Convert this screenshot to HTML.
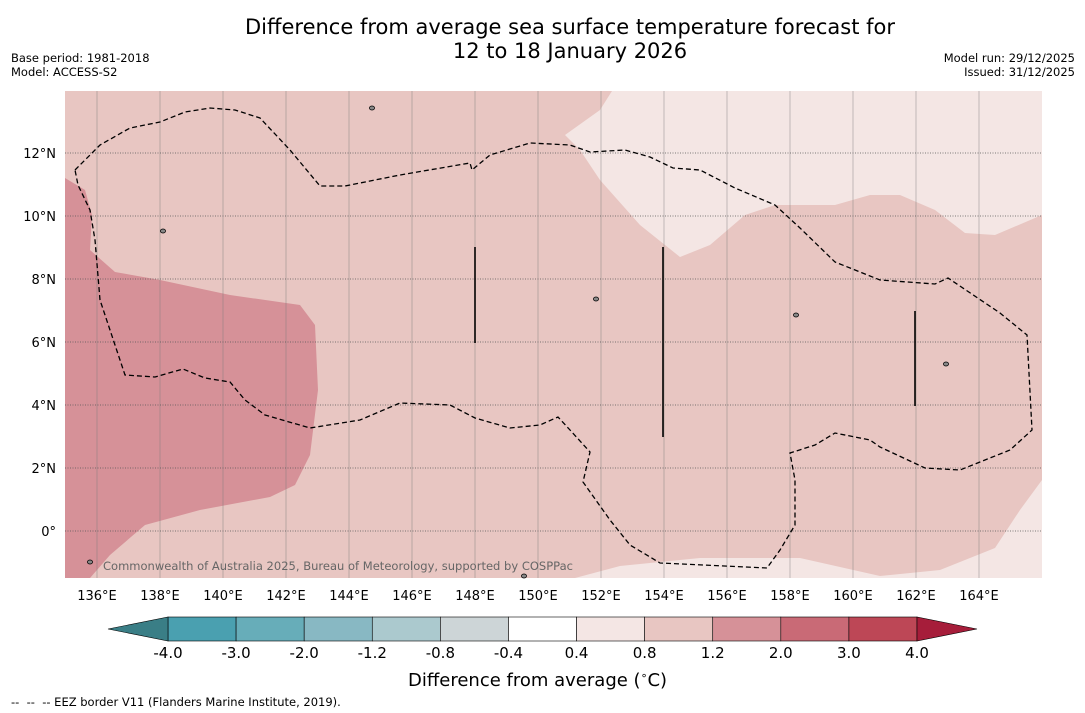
<!DOCTYPE html>
<html><head><meta charset="utf-8"><style>
body{margin:0;background:#fff;font-family:"DejaVu Sans","Liberation Sans",sans-serif;}
#wrap{position:relative;width:1085px;height:713px;overflow:hidden;background:#fff}
.t{position:absolute;color:#000}
</style></head><body>
<div id="wrap">
<div class="t" style="left:0;width:1140px;top:15px;text-align:center;font-size:21px;line-height:24px">Difference from average sea surface temperature forecast for<br>12 to 18 January 2026</div>
<div class="t" style="left:11px;top:51px;font-size:11.5px;line-height:14px">Base period: 1981-2018<br>Model: ACCESS-S2</div>
<div class="t" style="right:10px;top:51px;font-size:11.5px;line-height:14px;text-align:right">Model run: 29/12/2025<br>Issued: 31/12/2025</div>
<svg id="svg" width="1085" height="713" style="position:absolute;left:0;top:0"></svg>
<div class="t" style="left:408px;top:669px;font-size:18px">Difference from average (<sup style="font-size:11px">∘</sup>C)</div>
<div class="t" style="left:11px;top:695px;font-size:11.5px">-- &nbsp;-- &nbsp;-- EEZ border V11 (Flanders Marine Institute, 2019).</div>
</div>
<script>
const lonTicks=[136,138,140,142,144,146,148,150,152,154,156,158,160,162,164];
const latTicks=[0,2,4,6,8,10,12];
const cbLevels=["-4.0","-3.0","-2.0","-1.2","-0.8","-0.4","0.4","0.8","1.2","2.0","3.0","4.0"];
const cbColors=["#4aa0b0","#67adb9","#88b8c3","#abc9ce","#cdd5d7","#ffffff","#f4e6e4","#e8c6c2","#d69198","#c96a76","#bd4756"];
const cbExtend=["#3a7e86","#a61d3a"];
const NS="http://www.w3.org/2000/svg";
const svg=document.getElementById('svg');
function el(t,a,p){const e=document.createElementNS(NS,t);for(const k in a)e.setAttribute(k,a[k]);(p||svg).appendChild(e);return e;}
const X0=65,X1=1042,Y0=91,Y1=578;
const xs=lon=>97+(lon-136)*31.5;
const ys=lat=>531-lat*31.5;
let r=el('rect',{x:X0,y:Y0,width:X1-X0,height:Y1-Y0,fill:"#e8c6c2"});

const polys=[
 ["anomaly-1p2-2p0-region","#d69198","65,178 85,190 92,215 90,250 115,272 160,280 230,295 300,305 315,325 318,390 310,455 295,485 270,497 200,510 145,525 110,555 90,578 65,578"],
 ["anomaly-0p4-0p8-north","#f4e6e4","612,91 600,110 565,135 580,150 600,180 640,225 680,257 710,245 745,215 775,205 835,205 870,195 900,195 935,210 965,233 995,235 1042,215 1042,91"],
 ["anomaly-0p4-0p8-south","#f4e6e4","1042,480 1020,510 995,548 940,570 880,576 800,558 700,558 620,566 575,578 1042,578"]
];
polys.forEach(p=>{const e=el('polygon',{points:p[2],fill:p[1]});});
lonTicks.forEach(l=>{const x=xs(l);const g=el('line',{x1:x,x2:x,y1:Y0,y2:Y1,stroke:"#777","stroke-width":0.6,"stroke-opacity":0.7});

const t=el('text',{x:x,y:600,"text-anchor":"middle","font-size":13,"font-family":"DejaVu Sans,sans-serif"});t.textContent=l+"°E";
});
latTicks.forEach(l=>{const y=ys(l);const g=el('line',{x1:X0,x2:X1,y1:y,y2:y,stroke:"#555","stroke-width":0.7,"stroke-dasharray":"1,1.5"});

const t=el('text',{x:56,y:y+5,"text-anchor":"end","font-size":13,"font-family":"DejaVu Sans,sans-serif"});t.textContent=l===0?"0°":l+"°N";
});
const eez="75,170 100,145 130,128 160,122 185,112 210,108 235,110 260,118 290,150 320,186 345,186 400,175 470,163 472,170 490,155 530,143 570,145 590,152 625,150 650,157 673,168 700,170 735,188 775,205 800,228 835,262 880,280 935,284 948,278 1000,313 1027,335 1032,430 1010,450 960,470 925,468 880,447 870,440 835,433 815,445 790,453 795,480 795,525 780,550 767,568 660,563 630,545 610,520 583,482 590,452 570,430 558,417 540,425 510,428 475,418 450,405 400,403 360,420 310,428 265,415 245,400 230,382 205,378 183,369 155,377 125,375 115,345 100,300 95,240 90,210 78,185 75,170";
let e=el('polyline',{points:eez,fill:"none",stroke:"#000","stroke-width":1.3,"stroke-dasharray":"5,3"});

[[475,247,343],[663,247,437],[915,311,406]].forEach(v=>{const l=el('line',{x1:v[0],x2:v[0],y1:v[1],y2:v[2],stroke:"#000","stroke-width":1.6});
});
[[372,108],[163,231],[596,299],[796,315],[946,364],[90,562],[524,576]].forEach(p=>{const c=el('ellipse',{cx:p[0],cy:p[1],rx:2.5,ry:2,fill:"#888",stroke:"#000","stroke-width":0.8});
});
let ct=el('text',{x:103,y:570,"font-size":11.5,fill:"#666","font-family":"DejaVu Sans,sans-serif",textLength:470});ct.textContent="Commonwealth of Australia 2025, Bureau of Meteorology, supported by COSPPac";

// colorbar
const cbX0=168,cbX1=917,cbY=617,cbH=24,w=(cbX1-cbX0)/cbColors.length;
cbColors.forEach((c,i)=>{const b=el('rect',{x:cbX0+i*w,y:cbY,width:w,height:cbH,fill:c,stroke:"#000","stroke-width":0.6});
});
let a1=el('polygon',{points:`108,629 ${cbX0},${cbY} ${cbX0},${cbY+cbH}`,fill:cbExtend[0],stroke:"#000","stroke-width":0.6});

let a2=el('polygon',{points:`977,629 ${cbX1},${cbY} ${cbX1},${cbY+cbH}`,fill:cbExtend[1],stroke:"#000","stroke-width":0.6});

cbLevels.forEach((s,i)=>{const t=el('text',{x:cbX0+i*w,y:658,"text-anchor":"middle","font-size":15,"font-family":"DejaVu Sans,sans-serif"});t.textContent=s;
});
</script>
</body></html>
